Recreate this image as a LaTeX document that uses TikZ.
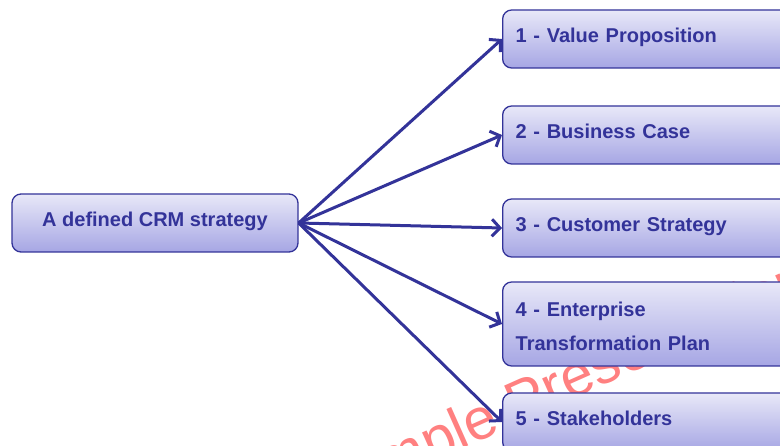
\documentclass[tikz,border=0pt]{standalone}
\usepackage{fontspec}
\setmainfont{Liberation Sans}
\usetikzlibrary{arrows.meta}

\definecolor{ink}{RGB}{51,51,153}
\definecolor{boxtop}{RGB}{232,232,248}
\definecolor{boxbot}{RGB}{166,166,228}
\definecolor{wmred}{RGB}{255,128,128}

\tikzset{
  box/.style={draw=ink, line width=1.3pt, rounded corners=9pt,
    top color=boxtop, bottom color=boxbot, text=ink,
    font=\bfseries\fontsize{20}{24}\selectfont, inner sep=0pt},
  srcbox/.style={box, minimum width=286pt, minimum height=58pt,
    text height=14pt, text depth=6pt},
  stepboxbase/.style={box, anchor=west, text width=274pt, align=left,
    inner xsep=13pt, inner ysep=0pt, minimum height=58pt},
  stepbox/.style={stepboxbase, text height=14pt, text depth=6pt},
  link/.style={draw=ink, line width=3pt,
    -{Straight Barb[length=8pt,width=17pt]}},
  watermark/.style={text=wmred, font=\fontsize{58}{64}\selectfont,
    inner sep=0pt}
}

\begin{document}
\begin{tikzpicture}[x=1pt, y=-1pt]
  % page area
  \fill[white] (0,0) rectangle (780,446);
  \useasboundingbox (0,0) rectangle (780,446);

  % watermark lettering behind everything
  \node[watermark, rotate=24, anchor=base west] (wm) at (322,511) {Sample Presentation};

  % source box
  \node[srcbox] (crm) at (155,223) {A defined CRM strategy};

  % target boxes
  \node[stepbox] (b1) at (502,39)  {1 - Value Proposition};
  \node[stepbox] (b2) at (502,135) {2 - Business Case};
  \node[stepbox] (b3) at (502,228) {3 - Customer Strategy};
  \node[stepboxbase, minimum height=84pt, text height=15pt, text depth=29pt,
        font=\bfseries\fontsize{20}{34}\selectfont] (b4) at (502,324)
        {4 - Enterprise\\Transformation Plan};
  \node[stepbox] (b5) at (502,422) {5 - Stakeholders};

  % connectors
  \draw[link] (crm.east) -- (b1.west);
  \draw[link] (crm.east) -- (b2.west);
  \draw[link] (crm.east) -- (b3.west);
  \draw[link] (crm.east) -- (b4.west);
  \draw[link] (crm.east) -- (b5.west);
\end{tikzpicture}
\end{document}
